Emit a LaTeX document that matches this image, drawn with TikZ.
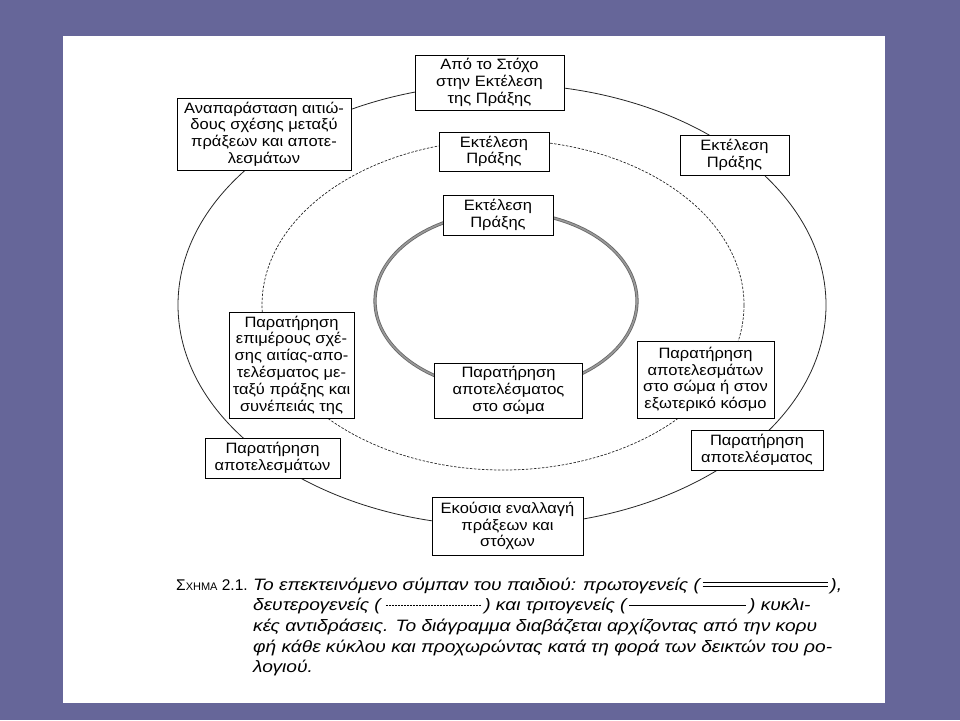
\documentclass[tikz,border=0pt]{standalone}
\usepackage{fontspec}
\setmainfont{Liberation Sans}
\newfontfamily\boxfont{Liberation Sans}[FakeStretch=1.1]
\newfontfamily\capfont{Liberation Sans}[FakeStretch=1.16]
\newcommand\mydbl{\rlap{\rule[0.2em]{125pt}{0.7pt}}\rule[0.42em]{125pt}{0.7pt}}
\newcommand\mydot{\leaders\hbox to 3pt{\hss\rule[0.3em]{1.6pt}{0.5pt}\hss}\hskip 98pt\relax}
\newcommand\mysol{\rule[0.3em]{117pt}{1pt}}
\definecolor{bgc}{HTML}{666699}
\begin{document}
\begin{tikzpicture}[x=1pt,y=-1pt,
  box/.style={draw=black, line width=0.9pt, fill=white, align=center, inner sep=0pt,
    font=\boxfont\fontsize{15}{16.8}\selectfont},
  captext/.style={anchor=base west, inner sep=0pt, font=\capfont\fontsize{16.5}{18}\selectfont\itshape},
  outerring/.style={line width=0.8pt, draw=black!85},
  midring/.style={line width=0.7pt, draw=black!85, dash pattern=on 2.5pt off 1.5pt},
  innerring/.style={line width=0.8pt, draw=black!60, double=black!40, double distance=1.6pt}]
\useasboundingbox (0,0) rectangle (960,720);
\fill[bgc] (0,0) rectangle (960,720);
\fill[white] (63,36) rectangle (885,703);
% rings
\draw[outerring] (502,305) ellipse [x radius=324pt, y radius=221pt];
\draw[midring] (503,305) ellipse [x radius=241pt, y radius=165pt];
\draw[innerring] (506,301) ellipse [x radius=131pt, y radius=89pt];
% boxes
\node[box, minimum width=174pt, minimum height=72pt] (b1) at (264,134)
  {Αναπαράσταση αιτιώ-\\δους σχέσης μεταξύ\\πράξεων και αποτε-\\λεσμάτων};
\node[box, minimum width=149pt, minimum height=55pt] (b2) at (489.5,82.5)
  {Από το Στόχο\\στην Εκτέλεση\\της Πράξης};
\node[box, minimum width=110pt, minimum height=39pt] (b3) at (494,151.5)
  {Εκτέλεση\\Πράξης};
\node[box, minimum width=109pt, minimum height=40pt] (b4) at (734.5,155)
  {Εκτέλεση\\Πράξης};
\node[box, minimum width=110pt, minimum height=40pt] (b5) at (498,215)
  {Εκτέλεση\\Πράξης};
\node[box, minimum width=125pt, minimum height=106pt] (b6) at (291.5,365)
  {Παρατήρηση\\επιμέρους σχέ-\\σης αιτίας-απο-\\τελέσματος με-\\ταξύ πράξης και\\συνέπειάς της};
\node[box, minimum width=148pt, minimum height=55pt] (b7) at (508.5,390.5)
  {Παρατήρηση\\αποτελέσματος\\στο σώμα};
\node[box, minimum width=137pt, minimum height=77pt] (b8) at (705.5,379.5)
  {Παρατήρηση\\αποτελεσμάτων\\στο σώμα ή στον\\εξωτερικό κόσμο};
\node[box, minimum width=135pt, minimum height=40pt] (b9) at (272.5,458)
  {Παρατήρηση\\αποτελεσμάτων};
\node[box, minimum width=132pt, minimum height=40pt] (b10) at (757,450)
  {Παρατήρηση\\αποτελέσματος};
\node[box, minimum width=151pt, minimum height=58pt] (b11) at (507.5,526)
  {Εκούσια εναλλαγή\\πράξεων και\\στόχων};
% caption
\node[captext, font=\fontsize{15.5}{18}\selectfont] (c0) at (176,590)
  {Σ{\fontsize{11}{13}\selectfont ΧΗΜΑ} 2.1.};
\node[captext] (c1) at (253,590) {Το επεκτεινόμενο σύμπαν του παιδιού: πρωτογενείς (\,\mydbl\,),};
\node[captext] (c2) at (253,610.7) {δευτερογενείς (\,\mydot\,) και τριτογενείς (\,\mysol\,) κυκλι-};
\node[captext] (c3) at (253,631.4) {κές αντιδράσεις. Το διάγραμμα διαβάζεται αρχίζοντας από την κορυ};
\node[captext] (c4) at (253,652.1) {φή κάθε κύκλου και προχωρώντας κατά τη φορά των δεικτών του ρο-};
\node[captext] (c5) at (253,672.8) {λογιού.};
\end{tikzpicture}
\end{document}
